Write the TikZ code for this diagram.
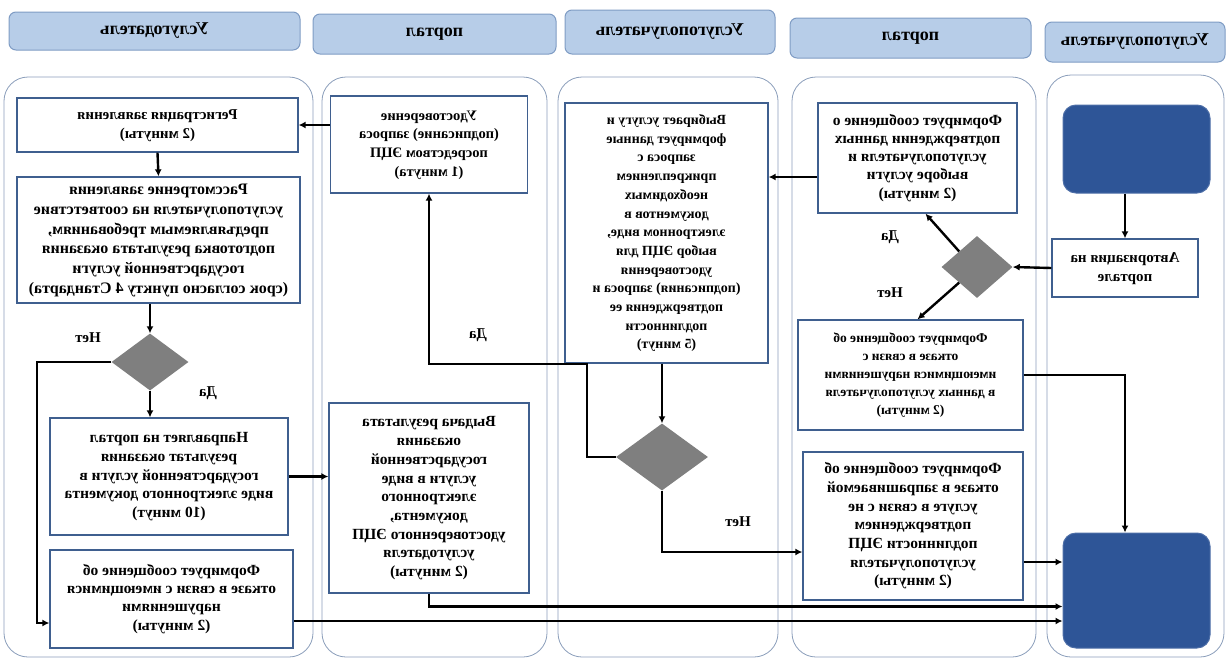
\documentclass[tikz,border=0pt]{standalone}
\usepackage{fontspec}
\setmainfont{Liberation Serif}
\usepackage{graphicx}
\usetikzlibrary{arrows.meta,shapes.geometric}

\definecolor{hdrfill}{HTML}{B7CDE8}
\definecolor{hdrline}{HTML}{7F9CC4}
\definecolor{laneline}{HTML}{8A9DBA}
\definecolor{boxline}{HTML}{3F5F8F}
\definecolor{termfill}{HTML}{2E5597}
\definecolor{decfill}{HTML}{7F7F7F}

% mirrored multi-line text
\newcommand{\mirr}[1]{\reflectbox{\begin{tabular}{@{}c@{}}#1\end{tabular}}}

\begin{document}
\begin{tikzpicture}[x=1pt,y=-1pt]
\tikzstyle{lane}=[draw=laneline,line width=0.8pt,rounded corners=24pt]
\tikzstyle{hdr}=[draw=hdrline,fill=hdrfill,line width=1pt,rounded corners=7pt,inner sep=0pt,font=\fontsize{18}{21}\selectfont\bfseries]
\tikzstyle{box}=[draw=boxline,fill=white,line width=1.3pt,inner sep=2pt]
\tikzset{fs/.style 2 args={font=\fontsize{#1}{#2}\selectfont\bfseries}}
\tikzstyle{term}=[draw=termfill!85!white,fill=termfill,line width=1pt,rounded corners=13pt]
\tikzstyle{dec}=[diamond,fill=decfill,inner sep=0pt]
\tikzstyle{lbl}=[font=\fontsize{15}{17}\selectfont\bfseries]
\tikzstyle{arr}=[draw=black,line width=2.4pt,-{Latex[length=7pt,width=7pt]}]
\useasboundingbox (0,0) rectangle (1227,659);
% lanes
\draw[lane] (4,77) rectangle (313,657);
\draw[lane] (322,77) rectangle (547,657);
\draw[lane] (558,77) rectangle (778,657);
\draw[lane] (792,77) rectangle (1036,657);
\draw[lane] (1047,75) rectangle (1224,657);
% headers
\node[hdr,minimum width=291pt,minimum height=38pt] (h1) at (154.5,31) {\reflectbox{Услугодатель}};
\node[hdr,minimum width=243pt,minimum height=40pt] (h2) at (434.5,34) {\reflectbox{портал}};
\node[hdr,minimum width=210pt,minimum height=44pt] (h3) at (670,32) {\reflectbox{Услугополучатель}};
\node[hdr,minimum width=241pt,minimum height=40pt] (h4) at (910.5,38) {\reflectbox{портал}};
\node[hdr,minimum width=180pt,minimum height=40pt] (h5) at (1135,42) {\reflectbox{Услугополучатель}};
% Услугодатель
\node[box,fs={15}{18.7},minimum width=281pt,minimum height=54pt] (R1) at (157.5,125) {\mirr{Регистрация заявления\\(2 минуты)}};
\node[box,fs={16}{19.7},minimum width=283pt,minimum height=126pt] (R2) at (158.5,240) {\mirr{Рассмотрение заявления\\услугополучателя на соответствие\\предъявляемым требованиям,\\подготовка результата оказания\\государственной услуги\\(срок согласно пункту 4 Стандарта)}};
\node[dec,minimum width=77pt,minimum height=57pt] (D1) at (150,362) {};
\node[box,fs={15.5}{18.7},minimum width=238pt,minimum height=117pt] (R3) at (169,476.5) {\mirr{Направляет на портал\\результат оказания\\государственной услуги в\\виде электронного документа\\(10 минут)}};
\node[box,fs={15.5}{18.3},minimum width=243pt,minimum height=98pt] (R4) at (171.5,599) {\mirr{Формирует сообщение об\\отказе в связи с имеющимися\\нарушениями\\(2 минуты)}};
% портал
\node[box,fs={14.5}{18.7},minimum width=197pt,minimum height=97pt] (U) at (429,144.5) {\mirr{Удостоверение\\(подписание) запроса\\посредством ЭЦП\\(1 минута)}};
\node[box,fs={15.5}{18.7},minimum width=200pt,minimum height=190pt] (V) at (429,498) {\mirr{Выдача результата\\оказания\\государственной\\услуги в виде\\электронного\\документа,\\удостоверенного ЭЦП\\услугодателя\\(2 минуты)}};
% Услугополучатель
\node[box,fs={14}{18.7},minimum width=203pt,minimum height=260pt] (S) at (666.5,233) {\mirr{Выбирает услугу и\\формирует данные\\запроса с\\прикреплением\\необходимых\\документов в\\электронном виде,\\выбор ЭЦП для\\удостоверения\\(подписания) запроса и\\подтверждения ее\\подлинности\\(5 минут)}};
\node[dec,minimum width=92pt,minimum height=67pt] (D3) at (662,457) {};
% портал
\node[box,fs={15.5}{18.3},minimum width=199pt,minimum height=110pt] (F1) at (917.5,158) {\mirr{Формирует сообщение о\\подтверждении данных\\услугополучателя и\\выборе услуги\\(2 минуты)}};
\node[dec,minimum width=71pt,minimum height=62pt] (D2) at (977,267) {};
\node[box,fs={13.5}{18}, minimum width=225pt,minimum height=110pt] (F2) at (910.5,375) {\mirr{Формирует сообщение об\\отказе в связи с\\имеющимися нарушениями\\в данных услугополучателя\\(2 минуты)}};
\node[box,fs={15.5}{18.7},minimum width=220pt,minimum height=148pt] (F3) at (913,526) {\mirr{Формирует сообщение об\\отказе в запрашиваемой\\услуге в связи с не\\подтверждением\\подлинности ЭЦП\\услугополучателя\\(2 минуты)}};
% Услугополучатель
\node[term,minimum width=147pt,minimum height=88pt] (Start) at (1136.5,149) {};
\node[box,fs={15}{18.7},minimum width=146pt,minimum height=58pt] (Auth) at (1125,268) {\mirr{Авторизация на\\портале}};
\node[term,minimum width=147pt,minimum height=115pt] (End) at (1136.5,590.5) {};
% labels
\node[lbl] (n1) at (88,338) {\reflectbox{Нет}};
\node[lbl] (y1) at (208,393) {\reflectbox{Да}};
\node[lbl] (y2) at (890,237) {\reflectbox{Да}};
\node[lbl] (n2) at (890,293) {\reflectbox{Нет}};
\node[lbl] (y3) at (478,335) {\reflectbox{Да}};
\node[lbl] (n3) at (738,522) {\reflectbox{Нет}};
% bends
\coordinate (k1) at (587,364);
\coordinate (k2) at (37,362);
% connectors
\draw[arr] (Start.south -| Auth) -- (Auth.north);
\draw[arr] (Auth.west) -- (D2.east);
\draw[arr] (D2.north west) -- ([xshift=8pt]F1.south);
\draw[arr] (D2.south west) -- ([xshift=7pt]F2.north);
\draw[arr] ([yshift=-19pt]F1.west) -- ([yshift=-19pt]F1.west -| S.east);
\draw[arr] (F2.east) -| (End.north -| Auth);
\draw[arr] ([yshift=-36pt]F3.east) -- ([yshift=-36pt]F3.east -| End.west);
\draw[arr] (S.south -| D3) -- (D3.north);
\draw[arr] (D3.south) |- ([yshift=-26pt]F3.west);
\draw[arr] (D3.west) -| (k1) -| (U.south);
\draw[arr] (U.west |- R1) -- (R1.east);
\draw[arr] (R1.south) -- (R2.north);
\draw[arr] (R2.south -| D1) -- (D1.north);
\draw[arr] (D1.south) -- (D1.south |- R3.north);
\draw[arr] (D1.west) -- (k2) |- ([yshift=-24pt]R4.west);
\draw[arr] (R3.east) -- (R3.east -| V.west);
\draw[arr] (V.south) |- ([yshift=-16pt]End.west);
\draw[arr] ([yshift=-22pt]R4.east) -- ([yshift=-22pt]R4.east -| End.west);
\end{tikzpicture}
\end{document}
